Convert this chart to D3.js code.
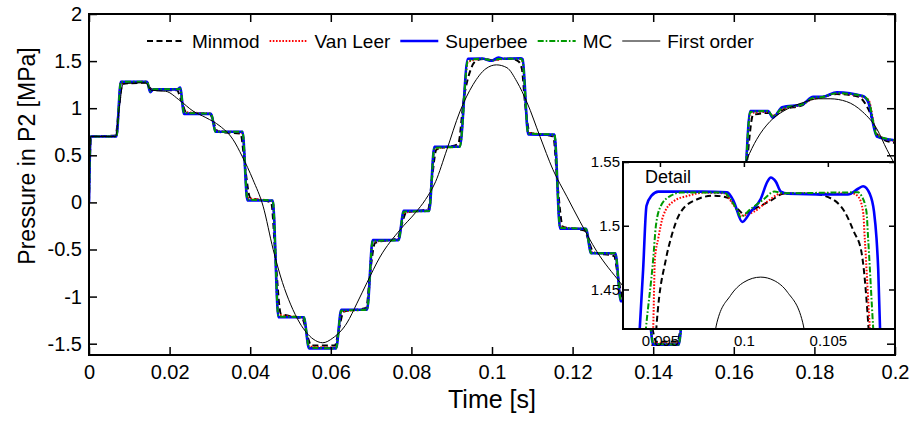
<!DOCTYPE html>
<html>
<head>
<meta charset="utf-8">
<script src="https://cdn.jsdelivr.net/npm/d3@7"></script>
<style>
  body { margin: 0; background: #fff; }
  svg { display: block; font-family: "Liberation Sans", Arial, sans-serif; }
</style>
</head>
<body>
<svg id="chart" width="916" height="421"></svg>
<script>
// ---- main view: time grid for the sharp limiters (s) and pressure in P2 (MPa)
const sharpTime = [0, 0.0004, 0.0068, 0.0079, 0.0144, 0.0152, 0.0160, 0.0220, 0.0226, 0.0236,
  0.0303, 0.0314, 0.0381, 0.0393, 0.0456, 0.0470, 0.0533, 0.0546, 0.0613, 0.0626,
  0.0690, 0.0704, 0.0768, 0.0781, 0.0844, 0.0857, 0.0920, 0.0940, 0.0975, 0.0999,
  0.1016, 0.1030, 0.1071, 0.1076, 0.1090, 0.1155, 0.1169, 0.1233, 0.1246, 0.1306,
  0.1320, 0.1386, 0.1400, 0.1463, 0.1477, 0.1543, 0.1556, 0.1620, 0.1641, 0.1685,
  0.1697, 0.1720, 0.1770, 0.1797, 0.1820, 0.1856, 0.1920, 0.1934, 0.1955, 0.2000];
const superbee = [0.00, 0.70, 0.70, 1.28, 1.28, 1.17, 1.20, 1.20, 1.22, 0.94,
  0.94, 0.75, 0.75, 0.02, 0.02, -1.22, -1.22, -1.55, -1.55, -1.14,
  -1.14, -0.40, -0.40, -0.09, -0.09, 0.59, 0.59, 1.525, 1.527, 1.503,
  1.538, 1.525, 1.531, 1.52, 0.72, 0.72, -0.28, -0.28, -0.54, -0.54,
  -1.05, -1.05, -1.51, -1.51, -1.05, -1.05, -0.20, -0.20, 0.97, 0.97,
  0.90, 1.01, 1.04, 1.12, 1.12, 1.17, 1.13, 1.06, 0.70, 0.66];
const mc = [0.00, 0.70, 0.70, 1.28, 1.28, 1.18, 1.20, 1.20, 1.21, 0.95,
  0.94, 0.75, 0.75, 0.03, 0.02, -1.21, -1.22, -1.54, -1.55, -1.15,
  -1.14, -0.41, -0.40, -0.10, -0.09, 0.58, 0.59, 1.50, 1.526, 1.507,
  1.522, 1.526, 1.526, 1.50, 0.73, 0.72, -0.27, -0.28, -0.54, -0.54,
  -1.04, -1.05, -1.50, -1.51, -1.06, -1.05, -0.21, -0.20, 0.96, 0.97,
  0.91, 1.00, 1.04, 1.11, 1.12, 1.16, 1.13, 1.08, 0.71, 0.66];
const vanLeer = [0.00, 0.70, 0.70, 1.27, 1.28, 1.19, 1.20, 1.20, 1.20, 0.96,
  0.94, 0.76, 0.74, 0.05, 0.01, -1.19, -1.23, -1.53, -1.54, -1.16,
  -1.13, -0.42, -0.39, -0.11, -0.08, 0.57, 0.60, 1.49, 1.525, 1.508,
  1.515, 1.525, 1.525, 1.49, 0.74, 0.71, -0.26, -0.29, -0.53, -0.55,
  -1.03, -1.06, -1.49, -1.50, -1.07, -1.04, -0.22, -0.19, 0.95, 0.96,
  0.92, 0.99, 1.04, 1.10, 1.12, 1.16, 1.12, 1.09, 0.72, 0.65];

const minmodTime = [0, 0.0005, 0.0066, 0.0074, 0.0083, 0.0142, 0.0150, 0.0160, 0.0218, 0.0230,
  0.0242, 0.0300, 0.0309, 0.0320, 0.0376, 0.0387, 0.0400, 0.0452, 0.0463, 0.0476,
  0.0530, 0.0540, 0.0552, 0.0610, 0.0620, 0.0632, 0.0688, 0.0697, 0.0710, 0.0766,
  0.0775, 0.0787, 0.0842, 0.0851, 0.0862, 0.0916, 0.0930, 0.0948, 0.0963, 0.0982,
  0.1000, 0.1024, 0.1052, 0.1066, 0.1074, 0.1082, 0.1094, 0.1152, 0.1162, 0.1176,
  0.1230, 0.1240, 0.1252, 0.1303, 0.1313, 0.1326, 0.1383, 0.1395, 0.1408, 0.1460,
  0.1470, 0.1483, 0.1540, 0.1550, 0.1563, 0.1618, 0.1632, 0.1648, 0.1690, 0.1700,
  0.1725, 0.1770, 0.1790, 0.1820, 0.1856, 0.1910, 0.1935, 0.1960, 0.2000];
const minmod = [0.00, 0.70, 0.71, 0.99, 1.26, 1.27, 1.22, 1.19, 1.19, 1.07,
  0.95, 0.94, 0.85, 0.75, 0.73, 0.38, 0.05, 0.00, -0.60, -1.18,
  -1.24, -1.39, -1.52, -1.52, -1.35, -1.16, -1.12, -0.77, -0.43, -0.38,
  -0.25, -0.11, -0.07, 0.25, 0.56, 0.62, 1.10, 1.42, 1.51, 1.524,
  1.509, 1.525, 1.521, 1.495, 1.42, 1.05, 0.74, 0.70, 0.22, -0.26,
  -0.30, -0.41, -0.53, -0.57, -0.80, -1.03, -1.08, -1.28, -1.48, -1.48,
  -1.28, -1.07, -1.02, -0.60, -0.22, -0.17, 0.40, 0.93, 0.95, 0.92,
  0.99, 1.03, 1.10, 1.12, 1.15, 1.12, 0.98, 0.70, 0.63];

const firstOrderTime = [0, 0.0004, 0.0066, 0.0075, 0.0085, 0.0140, 0.0155, 0.0190, 0.0226, 0.0258,
  0.0290, 0.0325, 0.0357, 0.0380, 0.0407, 0.0432, 0.0457, 0.0480, 0.0500, 0.0523,
  0.0556, 0.0580, 0.0605, 0.0640, 0.0665, 0.0690, 0.0722, 0.0772, 0.0810, 0.0835,
  0.0860, 0.0888, 0.0920, 0.0953, 0.0985, 0.1011, 0.1037, 0.1062, 0.1087, 0.1119,
  0.1151, 0.1186, 0.1218, 0.1260, 0.1318, 0.1370, 0.1420, 0.1460, 0.1510, 0.1560,
  0.1600, 0.1633, 0.1657, 0.1690, 0.1732, 0.1772, 0.1810, 0.1839, 0.1880, 0.1920,
  0.1955, 0.1980, 0.2000];
const firstOrder = [0.00, 0.70, 0.70, 1.00, 1.26, 1.27, 1.19, 1.18, 1.08, 0.97,
  0.90, 0.81, 0.67, 0.49, 0.24, -0.04, -0.50, -0.85, -1.08, -1.28,
  -1.45, -1.49, -1.44, -1.28, -1.07, -0.85, -0.58, -0.29, -0.11, 0.03,
  0.22, 0.56, 0.96, 1.25, 1.42, 1.46, 1.43, 1.28, 1.06, 0.70,
  0.35, 0.06, -0.20, -0.52, -0.85, -1.12, -1.25, -1.22, -0.95, -0.45,
  0.05, 0.46, 0.67, 0.86, 0.99, 1.06, 1.10, 1.10, 1.07, 0.96,
  0.78, 0.56, 0.40];

// ---- detail view around the first peak
const detailSuperbeeTime = [0.0936, 0.0938, 0.0940, 0.0942, 0.0945, 0.0949, 0.0975, 0.0990, 0.0994, 0.0999,
  0.1004, 0.1010, 0.1014, 0.1016, 0.1019, 0.1022, 0.1026, 0.1062, 0.1068, 0.1071,
  0.1075, 0.10775, 0.1079, 0.1080, 0.1082];
const detailSuperbee = [1.38, 1.42, 1.466, 1.5157, 1.5236, 1.5268, 1.5268, 1.5262, 1.519, 1.503,
  1.511, 1.521, 1.5346, 1.5378, 1.5346, 1.5268, 1.5252, 1.5245, 1.529, 1.531,
  1.525, 1.511, 1.49, 1.466, 1.38];
const detailMcTime = [0.0939, 0.09417, 0.0946, 0.09476, 0.09506, 0.09565, 0.09625, 0.0988, 0.0992, 0.09964,
  0.0998, 0.1004, 0.1012, 0.1018, 0.1024, 0.1068, 0.1070, 0.1073, 0.1074, 0.1077, 0.1079];
const detailMc = [1.38, 1.42, 1.474, 1.50, 1.5157, 1.5236, 1.526, 1.526, 1.521, 1.511,
  1.507, 1.513, 1.521, 1.5268, 1.5255, 1.5262, 1.5236, 1.511, 1.49, 1.42, 1.38];
const detailVanLeerTime = [0.0944, 0.0946, 0.0947, 0.0949, 0.0952, 0.0958, 0.0967, 0.0976, 0.0988, 0.0994,
  0.0999, 0.1006, 0.1014, 0.1022, 0.1065, 0.1068, 0.1071, 0.1072, 0.1075, 0.1077];
const detailVanLeer = [1.38, 1.42, 1.474, 1.49, 1.508, 1.519, 1.5236, 1.526, 1.5255, 1.516,
  1.508, 1.511, 1.519, 1.5252, 1.5252, 1.523, 1.511, 1.49, 1.42, 1.38];
const detailMinmodTime = [0.0946, 0.0948, 0.09536, 0.09565, 0.09625, 0.09726, 0.0982, 0.09905, 0.09964, 0.1000,
  0.1006, 0.1016, 0.1024, 0.1040, 0.1052, 0.1060, 0.10655, 0.1070, 0.1074, 0.1076];
const detailMinmod = [1.38, 1.422, 1.474, 1.49, 1.511, 1.521, 1.5236, 1.522, 1.513, 1.5094,
  1.513, 1.5197, 1.5252, 1.5252, 1.5213, 1.511, 1.4953, 1.4795, 1.4244, 1.38];
const detailFirstOrderTime = [0.0980, 0.0984, 0.0992, 0.1000, 0.1010, 0.1018, 0.1026, 0.1035, 0.1039];
const detailFirstOrder = [1.39, 1.4243, 1.4452, 1.4557, 1.4597, 1.4570, 1.4478, 1.4243, 1.39];

// ---- ticks and labels
const xTicks = [0, 0.02, 0.04, 0.06, 0.08, 0.1, 0.12, 0.14, 0.16, 0.18, 0.2];
const xTickLabels = ["0", "0.02", "0.04", "0.06", "0.08", "0.1", "0.12", "0.14", "0.16", "0.18", "0.2"];
const yTicks = [-1.5, -1, -0.5, 0, 0.5, 1, 1.5, 2];
const yTickLabels = ["-1.5", "-1", "-0.5", "0", "0.5", "1", "1.5", "2"];
const detailXTicks = [0.095, 0.1, 0.105];
const detailXTickLabels = ["0.095", "0.1", "0.105"];
const detailYTicks = [1.45, 1.5, 1.55];
const detailYTickLabels = ["1.45", "1.5", "1.55"];
const legendNames = ["Minmod", "Van Leer", "Superbee", "MC", "First order"];

const FONT = "Liberation Sans, Arial, sans-serif";

// line styles, in legend order
const styles = [
  { color: "#000000", width: 2, dash: "6,3.5" },
  { color: "#ff0000", width: 2, dash: "1.6,1.6" },
  { color: "#0000ff", width: 2.6, dash: null },
  { color: "#009a00", width: 2, dash: "6,2,1.6,2" },
  { color: "#000000", width: 1, dash: null }
];

const svg = d3.select("#chart");
const plot = { left: 89, right: 895, top: 14, bottom: 355 };

const x = d3.scaleLinear().domain([0, 0.2]).range([plot.left, plot.right]);
const y = d3.scaleLinear().domain([-1.62, 2]).range([plot.bottom, plot.top]);

function drawSeries(g, xs, ys, times, values, style) {
  const line = d3.line()
    .x(d => xs(d[0]))
    .y(d => ys(d[1]))
    .curve(d3.curveMonotoneX);
  g.append("path")
    .datum(d3.zip(times, values))
    .attr("d", line)
    .attr("fill", "none")
    .attr("stroke", style.color)
    .attr("stroke-width", style.width)
    .attr("stroke-dasharray", style.dash)
    .attr("stroke-linejoin", "round");
}

function styleAxis(g, size) {
  g.attr("font-size", size).attr("font-family", FONT);
  g.select(".domain").remove();
  g.selectAll(".tick line").attr("stroke", "#000").attr("stroke-width", 1.5);
  g.selectAll(".tick text").attr("fill", "#000");
}

// ---- main plot
svg.append("clipPath").attr("id", "clipMain")
  .append("rect")
  .attr("x", plot.left).attr("y", plot.top)
  .attr("width", plot.right - plot.left).attr("height", plot.bottom - plot.top);

const mainCurves = svg.append("g").attr("clip-path", "url(#clipMain)");
drawSeries(mainCurves, x, y, minmodTime, minmod, styles[0]);
drawSeries(mainCurves, x, y, sharpTime, vanLeer, styles[1]);
drawSeries(mainCurves, x, y, sharpTime, superbee, styles[2]);
drawSeries(mainCurves, x, y, sharpTime, mc, styles[3]);
drawSeries(mainCurves, x, y, firstOrderTime, firstOrder, styles[4]);

// axes, ticks point inwards on all four sides
svg.append("g")
  .attr("transform", "translate(0," + plot.bottom + ")")
  .call(d3.axisBottom(x).tickValues(xTicks).tickFormat((d, i) => xTickLabels[i])
    .tickSizeInner(-8).tickSizeOuter(0).tickPadding(10))
  .call(g => styleAxis(g, 20));

svg.append("g")
  .attr("transform", "translate(0," + plot.top + ")")
  .call(d3.axisTop(x).tickValues(xTicks).tickFormat("").tickSizeInner(-8).tickSizeOuter(0))
  .call(g => styleAxis(g, 20));

svg.append("g")
  .attr("transform", "translate(" + plot.left + ",0)")
  .call(d3.axisLeft(y).tickValues(yTicks).tickFormat((d, i) => yTickLabels[i])
    .tickSizeInner(-8).tickSizeOuter(0).tickPadding(7))
  .call(g => styleAxis(g, 20));

svg.append("g")
  .attr("transform", "translate(" + plot.right + ",0)")
  .call(d3.axisRight(y).tickValues(yTicks).tickFormat("").tickSizeInner(-8).tickSizeOuter(0))
  .call(g => styleAxis(g, 20));

svg.append("rect")
  .attr("x", plot.left).attr("y", plot.top)
  .attr("width", plot.right - plot.left).attr("height", plot.bottom - plot.top)
  .attr("fill", "none").attr("stroke", "#000").attr("stroke-width", 2);

// axis titles
svg.append("text")
  .attr("x", (plot.left + plot.right) / 2)
  .attr("y", 408)
  .attr("text-anchor", "middle")
  .attr("font-family", FONT)
  .attr("font-size", 25)
  .text("Time [s]");

svg.append("text")
  .attr("transform", "translate(35,156) rotate(-90)")
  .attr("text-anchor", "middle")
  .attr("font-family", FONT)
  .attr("font-size", 23)
  .text("Pressure in P2 [MPa]");

// legend, one row along the top of the plot
const legend = svg.append("g").attr("font-family", FONT).attr("font-size", 19);
let lx = 147;
legendNames.forEach((name, i) => {
  const s = styles[i];
  legend.append("line")
    .attr("x1", lx).attr("x2", lx + 38)
    .attr("y1", 41).attr("y2", 41)
    .attr("stroke", s.color)
    .attr("stroke-width", s.width)
    .attr("stroke-dasharray", s.dash);
  const t = legend.append("text")
    .attr("x", lx + 45).attr("y", 48)
    .text(name);
  lx += 45 + t.node().getComputedTextLength() + 10;
});

// ---- detail inset
const inset = { left: 623, right: 895, top: 162, bottom: 329 };
const xi = d3.scaleLinear().domain([0.0928, 0.1090]).range([inset.left, inset.right]);
const yi = d3.scaleLinear().domain([1.419, 1.55]).range([inset.bottom, inset.top]);

svg.append("rect")
  .attr("x", inset.left).attr("y", inset.top)
  .attr("width", inset.right - inset.left).attr("height", inset.bottom - inset.top)
  .attr("fill", "#fff");

svg.append("clipPath").attr("id", "clipInset")
  .append("rect")
  .attr("x", inset.left).attr("y", inset.top)
  .attr("width", inset.right - inset.left).attr("height", inset.bottom - inset.top);

const insetCurves = svg.append("g").attr("clip-path", "url(#clipInset)");
drawSeries(insetCurves, xi, yi, detailMinmodTime, detailMinmod, styles[0]);
drawSeries(insetCurves, xi, yi, detailVanLeerTime, detailVanLeer, styles[1]);
drawSeries(insetCurves, xi, yi, detailSuperbeeTime, detailSuperbee, styles[2]);
drawSeries(insetCurves, xi, yi, detailMcTime, detailMc, styles[3]);
drawSeries(insetCurves, xi, yi, detailFirstOrderTime, detailFirstOrder, styles[4]);

svg.append("g")
  .attr("transform", "translate(" + inset.left + ",0)")
  .call(d3.axisLeft(yi).tickValues(detailYTicks).tickFormat((d, i) => detailYTickLabels[i])
    .tickSizeInner(-6).tickSizeOuter(0).tickPadding(3))
  .call(g => styleAxis(g, 15));

svg.append("g")
  .attr("transform", "translate(" + inset.right + ",0)")
  .call(d3.axisRight(yi).tickValues(detailYTicks).tickFormat("").tickSizeInner(-6).tickSizeOuter(0))
  .call(g => styleAxis(g, 15));

svg.append("g")
  .attr("transform", "translate(0," + inset.top + ")")
  .call(d3.axisTop(xi).tickValues(detailXTicks).tickFormat("").tickSizeInner(-5).tickSizeOuter(0))
  .call(g => styleAxis(g, 15));

svg.append("g")
  .attr("transform", "translate(0," + inset.bottom + ")")
  .call(d3.axisBottom(xi).tickValues(detailXTicks).tickFormat((d, i) => detailXTickLabels[i])
    .tickSizeInner(0).tickSizeOuter(0).tickPadding(6))
  .call(g => styleAxis(g, 15));

svg.append("rect")
  .attr("x", inset.left).attr("y", inset.top)
  .attr("width", inset.right - inset.left).attr("height", inset.bottom - inset.top)
  .attr("fill", "none").attr("stroke", "#000").attr("stroke-width", 2);

svg.append("text")
  .attr("x", 645).attr("y", 183)
  .attr("font-family", FONT)
  .attr("font-size", 18)
  .text("Detail");
</script>
</body>
</html>
